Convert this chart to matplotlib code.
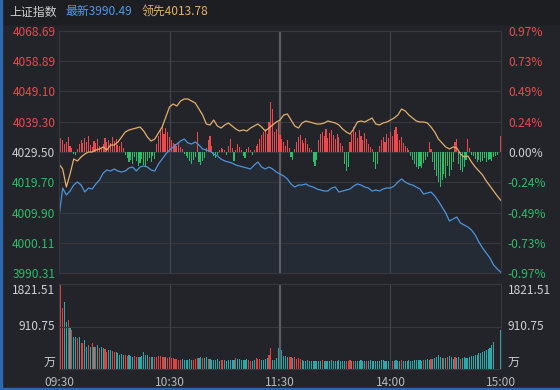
import numpy as np
import matplotlib.pyplot as plt
from matplotlib.patches import Rectangle

plt.rcParams['font.family'] = ['Noto Sans CJK SC', 'DejaVu Sans']

# ---- data ----
name = "上证指数"
pre_close = 4029.50
last_price = 3990.49
lead_last = 4013.78

price_ticks = [4068.69, 4058.89, 4049.10, 4039.30, 4029.50, 4019.70, 4009.90, 4000.11, 3990.31]
pct_labels = ['0.97%', '0.73%', '0.49%', '0.24%', '0.00%', '-0.24%', '-0.49%', '-0.73%', '-0.97%']
vol_max = 1821.51
vol_mid = 910.75
time_ticks = [0, 60, 120, 180, 240]
time_labels = ['09:30', '10:30', '11:30', '14:00', '15:00']

# index price, one value every 2 minutes
price = [
    4008.45, 4017.84, 4015.57, 4016.87, 4018.81, 4019.78, 4018.81, 4016.54, 4017.84, 4017.52,
    4019.14, 4020.43, 4022.70, 4023.67, 4023.35, 4023.99, 4023.35, 4023.02, 4023.35, 4024.32,
    4024.64, 4023.35, 4024.64, 4024.97, 4024.64, 4023.67, 4023.35, 4025.61, 4027.23, 4028.85,
    4030.15, 4031.12, 4032.09, 4033.06, 4033.71, 4032.42, 4032.09, 4032.74, 4031.77, 4030.47,
    4030.15, 4029.82, 4028.85, 4028.20, 4027.23, 4026.58, 4026.26, 4025.94, 4025.29, 4024.97,
    4024.64, 4024.32, 4023.99, 4025.29, 4026.26, 4024.64, 4023.99, 4024.64, 4023.99, 4023.02,
    4022.37, 4021.73, 4020.75, 4019.14, 4018.16, 4018.81, 4018.81, 4019.14, 4018.49, 4018.16,
    4017.52, 4017.19, 4016.87, 4016.87, 4017.84, 4018.16, 4016.54, 4016.87, 4017.19, 4017.52,
    4018.49, 4019.14, 4018.81, 4018.16, 4017.84, 4016.87, 4017.19, 4016.87, 4017.52, 4017.84,
    4017.84, 4018.49, 4019.78, 4020.75, 4019.78, 4019.14, 4018.81, 4018.16, 4017.52, 4015.90,
    4016.22, 4016.54, 4015.25, 4013.63, 4011.69, 4009.74, 4007.15, 4007.80, 4008.45, 4006.50,
    4005.86, 4005.21, 4004.24, 4002.62, 4000.35, 3998.41, 3996.79, 3995.17, 3992.90, 3991.60,
    3990.49,
]

# leading (unweighted) index, one value every 2 minutes
lead = [
    4025.61, 4023.99, 4018.16, 4022.37, 4027.23, 4026.58, 4027.88, 4028.85, 4029.50, 4029.50,
    4030.15, 4030.47, 4031.12, 4030.15, 4031.77, 4031.77, 4032.74, 4034.36, 4035.98, 4036.63,
    4036.95, 4037.27, 4037.60, 4036.30, 4034.36, 4033.06, 4033.71, 4035.65, 4037.60, 4040.84,
    4044.08, 4045.05, 4044.40, 4046.02, 4046.67, 4046.67, 4046.02, 4045.37, 4043.43, 4041.48,
    4038.57, 4038.25, 4039.86, 4037.92, 4037.27, 4038.25, 4038.89, 4037.92, 4036.95, 4036.30,
    4036.63, 4036.30, 4037.27, 4037.92, 4038.57, 4037.60, 4036.30, 4037.27, 4038.25, 4039.22,
    4039.86, 4041.48, 4041.81, 4039.86, 4037.92, 4037.27, 4038.89, 4039.54, 4039.22, 4038.89,
    4038.57, 4038.57, 4038.89, 4039.54, 4039.22, 4038.89, 4038.25, 4036.95, 4035.98, 4035.33,
    4036.95, 4039.22, 4039.54, 4039.22, 4039.86, 4040.51, 4038.57, 4038.25, 4038.89, 4039.22,
    4039.86, 4040.51, 4041.48, 4043.43, 4042.78, 4041.48, 4040.51, 4039.54, 4039.22, 4039.22,
    4038.89, 4037.60, 4035.98, 4033.71, 4032.42, 4031.12, 4030.47, 4031.12, 4030.80, 4028.85,
    4027.88, 4028.20, 4026.26, 4024.64, 4023.35, 4022.05, 4020.11, 4018.49, 4016.87, 4015.25,
    4013.78,
]

# red/green strength bars, one per minute
strength = [
    0, 14, 12, 8, 10, 15, 6, 4, -2, -3, 3, 8, 12, 9, 14, 10, 16, 7, 5, 11,
    9, 13, 6, 4, 8, 14, 10, 12, 9, 15, 11, 13, 7, 6, 10, 4,
    -3, -6, -10, -8, -12, -5, -9, -14, -11, -7, -13, -15, -9, -6, -10, -4, -7,
    8, 16, 22, 26, 18, 24, 20, 15, 12, 9,
    8, 6, 10, 5, 3, -2, -4, -6, -9, -12, -8, -5, 20, -10, -13, -9, -6, 4, 12, 16,
    6, -4, -6, -3, 2, 4,
    3, 2, -3, 6, 13, 4, -9, 2, 8, 5, 2, -4, -6, 3, 5, 2, -3, 2,
    6, 8, 13, 17, 20, 23, 18, 30, 50, 43, 20, 23, 30, 17, 13, 10, 6, 12,
    4, -5, -8, 3, 10, 15, 17, 12, 9, 14, 8, 4, 2,
    -10, -14, -8,
    12, 18, 20, 16, 23, 14, 19, 22, 17, 13, 18, 15, 9, 6,
    -12, -19, -15,
    10, 18, 25, 20, 14, 22, 16, 12, 19, 13, 8, 5, 3,
    -10, -17, -12,
    6, 12, 15, 10, 18, 14, 20, 16, 22, 25, 18, 12, 15, 9, 6, 4, 2,
    -4, -8, -12, -15, -17, -14, -16, -11, -8, -5,
    10, 3,
    -10, -18, -24, -30, -35, -28, -22, -26,
    -14, -24, -18, -10,
    10, 13,
    -12, -18, -20, -15, -8,
    13, 4, -3,
    -4, -7, -10, -8, -10, -9, -6, -10, -8, -7, -9, -5, -4, -3,
    0, 16,
]

# volume per minute (万)
volume = [
    620, 1800, 1300, 1440, 1010, 1050, 870, 840, 690, 690,
    660, 690, 550, 550, 620, 480, 510, 480, 550, 480,
    480, 510, 440, 470, 440, 420, 370, 400, 410, 390,
    370, 370, 340, 300, 320, 300, 290, 280, 300, 280,
    250, 270, 250, 260, 250, 280, 370, 290, 300, 250,
    260, 264, 255, 250, 270, 279, 260, 264, 250, 240,
    250, 235, 229, 215, 207, 200, 193, 207, 200, 193,
    200, 207, 195, 193, 210, 229, 240, 264, 229, 235,
    250, 220, 207, 200, 193, 200, 207, 179, 185, 193,
    185, 179, 185, 193, 190, 193, 229, 210, 207, 200,
    193, 200, 207, 190, 179, 179, 200, 229, 215, 207,
    200, 193, 210, 229, 300, 443, 193, 200, 229, 450,
    800, 407, 279, 279, 260, 250, 250, 229, 250, 207,
    229, 207, 190, 180, 175, 190, 170, 165, 180, 175,
    170, 180, 175, 190, 170, 180, 175, 165, 185, 170,
    180, 175, 190, 170, 175, 180, 165, 170, 185, 175,
    170, 180, 175, 165, 190, 175, 180, 170, 175, 185,
    170, 165, 180, 175, 170, 185, 190, 175, 180, 170,
    175, 180, 170, 185, 175, 180, 195, 175, 170, 180,
    185, 175, 180, 190, 200, 185, 195, 180, 190, 200,
    210, 195, 205, 220, 240, 264, 300, 250, 229, 240,
    229, 250, 279, 250, 220, 265, 229, 250, 207, 229,
    250, 240, 230, 250, 270, 279, 300, 310, 336, 350,
    372, 390, 407, 430, 443, 514, 586, 0, 0, 0,
    836,
]

# r = up minute, g = down minute, w = opening
vol_dir = (
    "wrrggrgrgg" "rgrrggrgrg" "rgrggrrggr" "rgggggrrgg" "grrggggggr" "ggrrrrrrgr"
    "rrrrrrrggg" "gggrrrggrg" "grggggggrr" "ggggggrggg" "gggrrggrrr" "ggggrrgggg"
    "gggggrrgrr" "rrgggggggg" "gggrgggggg" "ggggggrrrg" "rggggggrgg" "gggggggggg"
    "rrggggrggg" "ggggggggrg" "ggrggggggr" "grgggrggrg" "gggggggggg" "gggggggggg"
    "g"
)

# ---- style ----
BG = '#232429'
HEAD_BG = '#1d1e22'
GRID = '#36383e'
RED = '#ea4a4e'
GREEN = '#2bbd6a'
LIGHT = '#cfcfcf'
BLUE = '#4b94dc'
ORANGE = '#e3ae6a'
VOL_COL = {'r': '#e2423f', 'g': '#2aa9ab', 'w': '#ead0d0'}
bar_unit = 0.324  # index points per strength unit
FS = 8.6

minutes = np.arange(241)
t2 = np.arange(0, 241, 2)

fig = plt.figure(figsize=(5.6, 3.9), dpi=100, facecolor=BG)
fig.patches.append(Rectangle((0, 1 - 24 / 390), 1, 24 / 390, transform=fig.transFigure,
                             color=HEAD_BG, zorder=0))
fig.patches.append(Rectangle((0, 0), 2 / 560, 1, transform=fig.transFigure,
                             color='#2d67ad', zorder=5))
fig.patches.append(Rectangle((0, 0), 1, 2 / 390, transform=fig.transFigure,
                             color='#2d67ad', zorder=5))

fig.text(9 / 560, 1 - 12 / 390, name, color=LIGHT, fontsize=FS, va='center')
fig.text(65 / 560, 1 - 12 / 390, f"最新{last_price:.2f}", color='#4d9be6', fontsize=FS, va='center')
fig.text(142 / 560, 1 - 12 / 390, f"领先{lead_last:.2f}", color=ORANGE, fontsize=FS, va='center')

ax = fig.add_axes([59 / 560, 1 - 273 / 390, 442 / 560, 242 / 390])
axv = fig.add_axes([59 / 560, 1 - 369 / 390, 442 / 560, 85 / 390])

# main panel
ax.set_facecolor(BG)
ax.set_xlim(0, 240)
ax.set_ylim(price_ticks[-1], price_ticks[0])
ax.grid(axis='y', color=GRID, lw=0.8)
for t in (60, 180):
    ax.axvline(t, color='#44464c', lw=0.8)
ax.axvline(120, color='#5a5c62', lw=1.6)

s = np.array(strength) * bar_unit
cols = [RED if v > 0 else GREEN for v in strength]
ax.fill_between(t2, price, price_ticks[-1], color='#3d6da8', alpha=0.10, lw=0, zorder=1)
ax.bar(minutes, s, bottom=pre_close, width=0.6, color=cols, lw=0, zorder=2,
       antialiased=False)
ax.plot(t2, lead, color=ORANGE, lw=0.9, zorder=3)
ax.plot(t2, price, color=BLUE, lw=0.9, zorder=4)

ax.set_yticks(price_ticks)
ax.set_yticklabels([f'{v:.2f}' for v in price_ticks], fontsize=FS)
ax.set_xticks([])
ax.tick_params(axis='y', length=0, pad=2.5)
axr = ax.twinx()
axr.set_ylim(ax.get_ylim())
axr.set_yticks(price_ticks)
axr.set_yticklabels(pct_labels, fontsize=FS)
axr.tick_params(axis='y', length=0, pad=5)
for labs in (ax.get_yticklabels(), axr.get_yticklabels()):
    for lab, v in zip(labs, price_ticks):
        lab.set_color(RED if v > pre_close else (GREEN if v < pre_close else LIGHT))
for a in (ax, axr):
    for sp in a.spines.values():
        sp.set_color(GRID)

# volume panel
axv.set_facecolor(BG)
axv.set_xlim(0, 240)
axv.set_ylim(0, vol_max)
axv.bar(minutes, volume, width=0.6, color=[VOL_COL[c] for c in vol_dir], lw=0, zorder=2,
        antialiased=False)
axv.axhline(vol_mid, color=GRID, lw=0.8)
for t in (60, 180):
    axv.axvline(t, color='#44464c', lw=0.8)
axv.axvline(120, color='#5a5c62', lw=1.6)
axv.set_yticks([])
axv.set_xticks(time_ticks)
axv.set_xticklabels(time_labels, fontsize=FS, color='#b8b8b8')
axv.tick_params(axis='x', length=0, pad=5)
for sp in axv.spines.values():
    sp.set_color(GRID)

for side, xa, dx, ha in (('l', 0, -4, 'right'), ('r', 1, 7, 'left')):
    for txt, yv, va in ((f'{vol_max:.2f}', vol_max, 'top'), (f'{vol_mid:.2f}', vol_mid, 'center'),
                        ('万', 0, 'bottom')):
        axv.annotate(txt, xy=(xa, yv), xycoords=('axes fraction', 'data'),
                     xytext=(dx, 0), textcoords='offset pixels', ha=ha, va=va,
                     color=LIGHT, fontsize=FS)

fig.savefig('out.png', dpi=100, facecolor=fig.get_facecolor())
